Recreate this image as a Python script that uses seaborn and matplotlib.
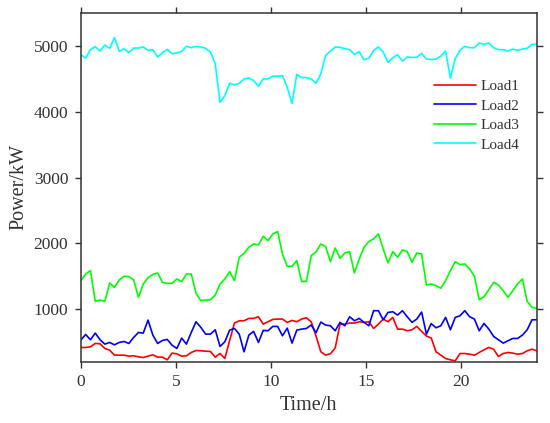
import numpy as np
import pandas as pd
import matplotlib
matplotlib.use("Agg")
import matplotlib.pyplot as plt
import seaborn as sns

# 96 samples over the day
time_h = np.linspace(0, 24, 96)

load1 = [416, 416, 426, 477, 472, 401, 375, 299, 299, 299, 284, 289, 274, 263, 284, 304, 269, 269, 228, 330, 319, 284, 289, 340, 370, 365,
         360, 355, 269, 325, 248, 520, 787, 822, 822, 858, 858, 883, 771, 807, 843, 848, 848, 797, 827, 807, 848, 868,
         805, 590, 350, 300, 320, 410, 771, 771, 787, 787, 807, 797, 807, 705, 771, 848, 807, 873, 695, 695, 670, 685, 736, 660, 590, 560, 350,
         299, 248, 228, 213, 324, 324, 314, 299, 340, 380, 416, 390, 279, 324, 340, 330, 314, 324, 365, 390, 365]

load2 = [528, 614, 533, 634, 533, 467, 492, 456, 492, 507, 477, 568, 644, 634, 832, 604, 477, 522, 538, 451, 401, 558, 467, 644, 807, 721,
         619, 619, 685, 431, 502, 680, 705, 619, 350, 604, 660, 492, 675, 670, 736, 736, 594, 710, 482, 680, 695, 705,
         758, 640, 802, 756, 746, 670, 797, 746, 883, 822, 858, 797, 746, 975, 975, 837, 949, 959, 909, 975, 883, 797, 848, 954, 619, 779, 715,
         746, 873, 685, 873, 898, 975, 883, 848, 670, 782, 695, 584, 533, 482, 518, 553, 553, 604, 685, 837, 837]

load3 = [1432, 1533, 1584, 1117, 1137, 1117, 1396, 1330, 1442, 1498, 1493, 1447, 1178, 1381, 1477, 1528, 1549, 1406, 1391, 1391, 1457, 1417, 1533, 1533, 1240, 1127,
         1137, 1142, 1213, 1381, 1457, 1569, 1432, 1787, 1848, 1940, 1990, 1975, 2107, 2041, 2143, 2179, 1838, 1650, 1650, 1737, 1417, 1422,
         1813, 1868, 1990, 1949, 1721, 1929, 1772, 1853, 1873, 1549, 1762, 1940, 2026, 2067, 2143, 1914, 1701, 1874, 1787, 1899, 1874, 1711, 1853, 1838, 1366, 1381, 1356,
         1315, 1432, 1584, 1721, 1676, 1686, 1610, 1498, 1142, 1188, 1295, 1406, 1366, 1279, 1178, 1279, 1381, 1457, 1117, 1025, 1010]

load4 = [4867, 4816, 4944, 4990, 4923, 5015, 4964, 5128, 4918, 4959, 4898, 4969, 4969, 4985, 4934, 4944, 4832, 4898, 4949, 4883, 4893, 4918, 4995, 4974, 4995, 4985,
         4964, 4908, 4730, 4143, 4245, 4434, 4408, 4434, 4500, 4515, 4474, 4388, 4500, 4500, 4541, 4541, 4551, 4372, 4128, 4571, 4520, 4520, 4500,
         4434, 4577, 4857, 4923, 4985, 4980, 4959, 4944, 4872, 4913, 4791, 4811, 4934, 4985, 4908, 4750, 4821, 4867, 4770, 4832, 4827, 4827, 4888, 4801, 4796, 4801, 4847,
         4923, 4510, 4806, 4934, 4995, 4974, 4974, 5046, 5025, 5046, 4974, 4944, 4944, 4923, 4954, 4934, 4954, 4964, 5025, 5025]

series_names = ["Load1", "Load2", "Load3", "Load4"]
colors = ["#ff0000", "#0000ff", "#00ff00", "#00ffff"]

df = pd.DataFrame({"time": time_h, "Load1": load1, "Load2": load2, "Load3": load3, "Load4": load4})
long_df = df.melt(id_vars="time", var_name="load", value_name="power")

sns.set_theme(style="ticks")
plt.rcParams["font.family"] = ["Liberation Serif", "DejaVu Serif"]

fig = plt.figure(figsize=(5.5, 4.23), dpi=100)
ax = fig.add_axes([0.147, 0.145, 0.829, 0.824])

sns.lineplot(data=long_df, x="time", y="power", hue="load", hue_order=series_names,
             palette=dict(zip(series_names, colors)), linewidth=1.2, ax=ax)

ax.set_xlim(0, 24)
ax.set_ylim(200, 5500)
ax.set_xticks([0, 5, 10, 15, 20])
ax.set_yticks([1000, 2000, 3000, 4000, 5000])
ax.set_xlabel("Time/h", fontsize=14.5, color="#333333")
ax.set_ylabel("Power/kW", fontsize=14.5, color="#333333")
ax.tick_params(direction="out", length=4, width=1, top=True, right=True,
               labelsize=12.5, labelcolor="#333333", color="#333333", pad=5)
for sp in ax.spines.values():
    sp.set_linewidth(1.1)
    sp.set_color("#333333")
    sp.set_visible(True)

leg = ax.legend(loc="upper left", bbox_to_anchor=(0.775, 0.81), frameon=False,
                fontsize=11, handlelength=2.75, handletextpad=0.25,
                labelspacing=0.38, borderpad=0, borderaxespad=0)
for t in leg.get_texts():
    t.set_color("#333333")

fig.savefig("out.png", dpi=100)
